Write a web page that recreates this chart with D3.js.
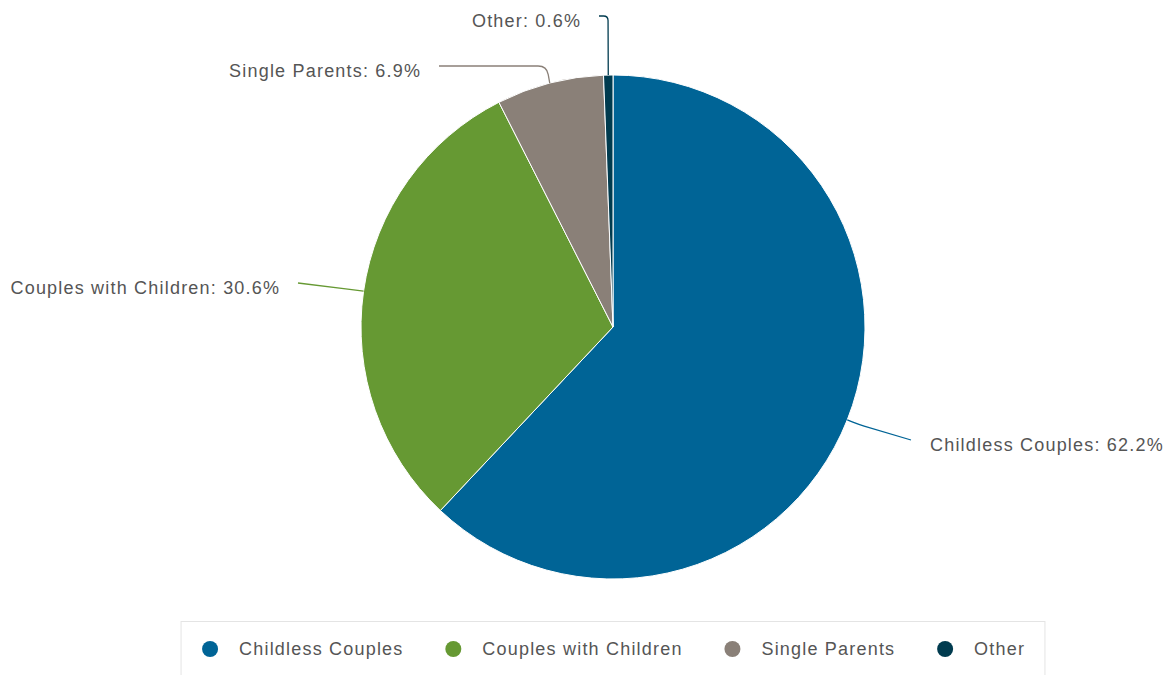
<!DOCTYPE html>
<html><head><meta charset="utf-8">
<script src="https://cdn.jsdelivr.net/npm/d3@7"></script>
<style>
body{margin:0;background:#fff;}
svg{display:block;font-family:"Liberation Sans",Arial,sans-serif;}
</style></head><body>
<svg id="chart" width="1169" height="675"></svg>
<script>
// ---- data ----
const categories = ["Childless Couples", "Couples with Children", "Single Parents", "Other"];
const values = [62.2, 30.6, 6.9, 0.6];
const colors = ["#006496", "#669933", "#8a8078", "#003b4f"];

// ---- layout (label offsets relative to pie centre) ----
const labelOffsets = [[317, 118], [-334, -39], [-193, -256], [-33, -306]];

const W = 1169, H = 675;
const cx = 613, cy = 327, r = 252;
const svg = d3.select("#chart");

const data = categories.map((c, i) => ({name: c, value: values[i], color: colors[i], off: labelOffsets[i]}));
const pie = d3.pie().value(d => d.value).sort(null);
const arcs = pie(data);
const arc = d3.arc().innerRadius(0).outerRadius(r);

const g = svg.append("g").attr("transform", `translate(${cx},${cy})`);
g.selectAll("path.slice").data(arcs).enter().append("path")
  .attr("class", "slice")
  .attr("d", arc)
  .attr("fill", d => d.data.color)
  .attr("stroke", "#fff").attr("stroke-width", 1).attr("stroke-linejoin", "round");

function polar(a, rad) { return [rad * Math.sin(a), -rad * Math.cos(a)]; }

function roundedPolyline(pts, rad) {
  let d = `M${pts[0][0]},${pts[0][1]}`;
  for (let i = 1; i < pts.length - 1; i++) {
    const p0 = pts[i - 1], p1 = pts[i], p2 = pts[i + 1];
    const l1 = Math.hypot(p1[0] - p0[0], p1[1] - p0[1]);
    const l2 = Math.hypot(p2[0] - p1[0], p2[1] - p1[1]);
    const rr = Math.min(rad, l1 / 2, l2 / 2);
    const a = [p1[0] - (p1[0] - p0[0]) / l1 * rr, p1[1] - (p1[1] - p0[1]) / l1 * rr];
    const b = [p1[0] + (p2[0] - p1[0]) / l2 * rr, p1[1] + (p2[1] - p1[1]) / l2 * rr];
    d += `L${a[0]},${a[1]}Q${p1[0]},${p1[1]} ${b[0]},${b[1]}`;
  }
  const last = pts[pts.length - 1];
  return d + `L${last[0]},${last[1]}`;
}

arcs.forEach(d => {
  const mid = (d.startAngle + d.endAngle) / 2;
  const right = Math.sin(mid) > 0;
  const p0 = polar(mid, r);
  const tx = d.data.off[0], ty = d.data.off[1];
  const end = [tx + (right ? -19 : 19), ty - 5];
  let corner;
  if (Math.abs(Math.cos(mid)) > 0.9) {
    const k = polar(mid, r + 12);
    corner = [k[0], end[1]];
  } else {
    corner = polar(mid, r + 12);
  }
  g.append("path")
    .attr("d", roundedPolyline([p0, corner, end], 10))
    .attr("fill", "none")
    .attr("stroke", d.data.color)
    .attr("stroke-width", 1.3);
  const t = g.append("text")
    .attr("y", ty)
    .attr("dy", "0.35em")
    .attr("font-size", 18)
    .attr("letter-spacing", "1.2px")
    .attr("fill", "#555")
    .text(`${d.data.name}: ${d.data.value}%`);
  const w = t.node().getComputedTextLength();
  t.attr("x", right ? tx : tx - w + 1.2);
});

// ---- legend ----
const legend = svg.append("g");
const box = legend.append("rect").attr("fill", "#fff").attr("stroke", "#e4e4e4").attr("stroke-width", 1);
const items = legend.append("g");
let x = 0;
const gap = 43;
data.forEach(d => {
  const it = items.append("g").attr("transform", `translate(${x},0)`);
  it.append("circle").attr("cx", 8).attr("cy", 0).attr("r", 8).attr("fill", d.color);
  const t = it.append("text").attr("x", 37).attr("y", 0).attr("dy", "0.35em")
    .attr("font-size", 18).attr("letter-spacing", "1.2px").attr("fill", "#555").text(d.name);
  const w = t.node().getComputedTextLength() - 1.2;
  x += 37 + w + gap;
});
const totalW = x - gap;
const legendY = 649;
items.attr("transform", `translate(${cx - totalW / 2},${legendY})`);
box.attr("x", cx - totalW / 2 - 21).attr("y", 621.5).attr("width", totalW + 42).attr("height", 70);
</script>
</body></html>
